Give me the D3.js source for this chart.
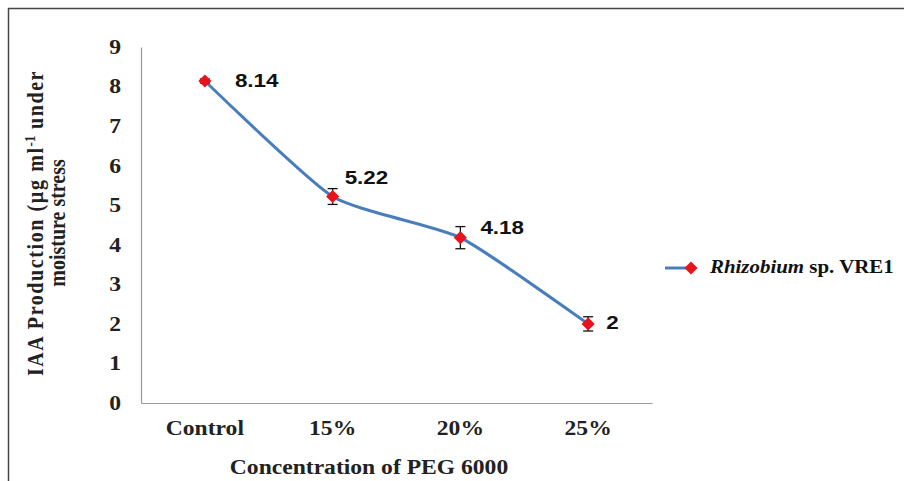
<!DOCTYPE html>
<html>
<head>
<meta charset="utf-8">
<script src="https://cdn.jsdelivr.net/npm/d3@7"></script>
<style>
  html, body { margin: 0; padding: 0; background: #fff; }
  svg { display: block; }
</style>
</head>
<body>
<div class="chart"></div>
<script>
// ---------- data ----------
const categories = ['Control', '15%', '20%', '25%'];
const iaaValues = [8.14, 5.22, 4.18, 2];
const errValues = [0.05, 0.2, 0.28, 0.18];
const dataLabels = ['8.14', '5.22', '4.18', '2'];
const yTicks = [0, 1, 2, 3, 4, 5, 6, 7, 8, 9];

const width = 904, height = 481;
const plot = {left: 141, right: 652, top: 47, bottom: 403};
const stretch = 1.18; // the original text is a little wide

// hand placed data labels, as in the source figure
const labelShift = [[30, 1], [12, -18], [20, -9], [18, 0]];

const svg = d3.select('.chart').append('svg')
  .attr('width', width)
  .attr('height', height);

// outer frame (only left + top edges fall inside the picture)
svg.append('path')
  .attr('d', `M8.5,${height}V8.5H${width}`)
  .attr('fill', 'none')
  .attr('stroke', '#444')
  .attr('stroke-width', 1.5);

const x = d3.scaleBand().domain(categories).range([plot.left, plot.right]);
const y = d3.scaleLinear().domain([0, 9]).range([plot.bottom, plot.top]);
const cx = d => x(d) + x.bandwidth() / 2;

const serif = '"Liberation Serif", "Times New Roman", serif';
const sans = '"Liberation Sans", Arial, sans-serif';

// y axis
const yAxis = svg.append('g')
  .attr('transform', `translate(${plot.left},0)`)
  .call(d3.axisLeft(y).tickValues(yTicks).tickSize(0).tickFormat(d3.format('d')));
yAxis.select('.domain').attr('stroke', '#999').attr('stroke-width', 1.2);
yAxis.selectAll('text')
  .attr('x', -20 / stretch)
  .attr('transform', `scale(${stretch},1)`)
  .attr('font-family', serif).attr('font-weight', 'bold')
  .attr('font-size', 20).attr('fill', '#222');

// x axis
const xAxis = svg.append('g')
  .attr('transform', `translate(0,${plot.bottom})`)
  .call(d3.axisBottom(x).tickSize(0).tickPadding(18));
xAxis.select('.domain').attr('stroke', '#999').attr('stroke-width', 1.2);
xAxis.selectAll('text')
  .attr('transform', `scale(${stretch},1)`)
  .attr('font-family', serif).attr('font-weight', 'bold')
  .attr('font-size', 20).attr('fill', '#222');

// axis titles
svg.append('text')
  .attr('transform', `translate(369,474) scale(${stretch},1)`)
  .attr('text-anchor', 'middle')
  .attr('font-family', serif).attr('font-weight', 'bold').attr('font-size', 20)
  .attr('fill', '#222')
  .text('Concentration of PEG 6000');

const yTitle = svg.append('text')
  .attr('transform', `translate(0,223) scale(${stretch},1) rotate(-90)`)
  .attr('text-anchor', 'middle')
  .attr('font-family', serif).attr('font-weight', 'bold').attr('font-size', 20)
  .attr('fill', '#222');
const t1 = yTitle.append('tspan').attr('x', 0).attr('y', 43 / stretch);
t1.append('tspan').attr('letter-spacing', 1.6).text('IAA  Production (µg ml');
t1.append('tspan').attr('dy', -7).attr('font-size', 13).text('-1');
t1.append('tspan').attr('dy', 7).attr('letter-spacing', 1.6).text(' under');
yTitle.append('tspan').attr('x', 0).attr('y', 65 / stretch).text('moisture stress');

// line
const line = d3.line()
  .x((d, i) => cx(categories[i]))
  .y(d => y(d))
  .curve(d3.curveCardinal.tension(0.45));

svg.append('path')
  .datum(iaaValues)
  .attr('d', line)
  .attr('fill', 'none')
  .attr('stroke', '#4A7EBB')
  .attr('stroke-width', 3);

// error bars
const eb = svg.append('g').attr('stroke', '#111').attr('stroke-width', 1.3);
iaaValues.forEach((v, i) => {
  const px = cx(categories[i]);
  const e = errValues[i];
  eb.append('line').attr('x1', px).attr('x2', px).attr('y1', y(v + e)).attr('y2', y(v - e));
  [v + e, v - e].forEach(w => {
    eb.append('line').attr('x1', px - 5).attr('x2', px + 5).attr('y1', y(w)).attr('y2', y(w));
  });
});

// markers
const diamond = d3.symbol().type(d3.symbolDiamond2).size(110);
svg.append('g').selectAll('path')
  .data(iaaValues)
  .join('path')
  .attr('d', diamond)
  .attr('transform', (d, i) => `translate(${cx(categories[i])},${y(d)})`)
  .attr('fill', '#E8141B');

// data labels
svg.append('g').selectAll('text')
  .data(iaaValues)
  .join('text')
  .attr('transform', (d, i) =>
    `translate(${cx(categories[i]) + labelShift[i][0]},${y(d) + labelShift[i][1]}) scale(${stretch},1)`)
  .attr('dominant-baseline', 'middle')
  .attr('font-family', sans).attr('font-weight', 'bold').attr('font-size', 19)
  .attr('fill', '#111')
  .text((d, i) => dataLabels[i]);

// legend
const lg = svg.append('g').attr('transform', 'translate(665,268)');
lg.append('line').attr('x1', 0).attr('x2', 26).attr('y1', 0).attr('y2', 0)
  .attr('stroke', '#4A7EBB').attr('stroke-width', 3);
lg.append('path').attr('d', diamond).attr('transform', 'translate(26,0)').attr('fill', '#E8141B');
const lt = lg.append('text')
  .attr('transform', 'translate(45,0) scale(1.1,1)')
  .attr('dominant-baseline', 'middle')
  .attr('font-family', serif).attr('font-weight', 'bold').attr('font-size', 19)
  .attr('fill', '#111');
lt.append('tspan').attr('font-style', 'italic').text('Rhizobium');
lt.append('tspan').text(' sp. VRE1');
</script>
</body>
</html>
